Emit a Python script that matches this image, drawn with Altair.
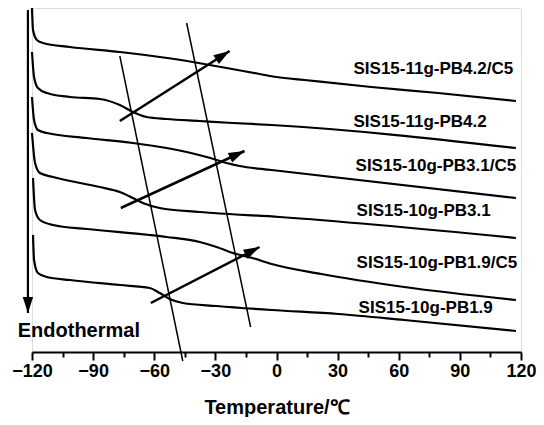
import math
import altair as alt
import pandas as pd

# ---- DSC curves: temperature (deg C) and heat flow (a.u., stacked offsets) ----
t_c1 = [-120, -119.5, -117.6, -114.6, -101.4, -76.9, -57.3, -41.1, -32.8, -24.5, -8.3, 0, 13.7, 46.5, 79.3, 117.5]
h_c1 = [344, 322, 312, 309, 305, 300, 295, 290, 287, 284, 278, 275, 272, 265, 259, 251]

t_c2 = [-120, -119, -117.1, -112.7, -101.4, -86.7, -76.9, -70.5, -63.7, -53.9, -37.7, -21.5, -2.4, 117.5]
h_c2 = [300, 275, 264, 259, 255, 253, 247, 240, 235, 233, 231, 229, 227, 204]

t_c3 = [-120, -119, -117.1, -112.7, -93.1, -70.5, -53.9, -44.1, -34.3, -24.5, -18.1, -2.4, 117.5]
h_c3 = [255, 232, 222, 219, 214, 209, 204, 200, 195, 189, 186, 182, 154]

t_c4 = [-120, -118.5, -116.1, -109.7, -86.7, -76.9, -70.5, -65.6, -57.3, -37.7, 1.5, 117.5]
h_c4 = [219, 189, 179, 175, 165, 160, 154, 149, 144, 140, 135, 114]

t_c5 = [-119.5, -118.5, -116.1, -109.7, -93.1, -62.2, -53.9, -37.7, -29.4, -21.5, -11.8, -2.4, 22, 62.7, 117.5]
h_c5 = [174, 142, 132, 127, 123, 117, 115, 110, 105, 99, 94, 88, 78, 65, 52]

t_c6 = [-119.5, -119, -117.1, -112.7, -101.4, -76.9, -62.2, -57.3, -52.4, -46, -29.4, -2.4, 30.4, 62.7, 117.5]
h_c6 = [117, 92, 79, 75, 72, 67, 64, 59, 53, 49, 46, 42, 38, 32, 21]

series_names = ["SIS15-11g-PB4.2/C5", "SIS15-11g-PB4.2", "SIS15-10g-PB3.1/C5",
                "SIS15-10g-PB3.1", "SIS15-10g-PB1.9/C5", "SIS15-10g-PB1.9"]

# ---- curve labels ----
label_t = [37.8, 37.8, 38.8, 39.3, 39.3, 40.3]
label_h = [278, 225.3, 181.3, 135.7, 84.3, 39.3]

# ---- guide lines through the transitions ----
guide_t1 = [-76.9, -44.1]
guide_h1 = [296, 329]
guide_t2 = [-46, -12.7]
guide_h2 = [-9, 25]

# ---- arrows (tail -> tip); last one is the "Endothermal" arrow ----
arrow_t1 = [-76.9, -76.4, -61.7, -122]
arrow_h1 = [231, 144, 49, 342]
arrow_t2 = [-23, -15.7, -8.3, -122]
arrow_h2 = [301, 201, 105, 39]

endo_text = ["Endothermal"]
endo_t = [-127.0]
endo_h = [15.3]

tick_values = list(range(-120, 121, 15))

# ---------------------------------------------------------------
W, H = 489, 344
PX_PER_T = W / 240.0
PX_PER_H = H / 344.0

rows = []
for name, ts, hs in zip(series_names, [t_c1, t_c2, t_c3, t_c4, t_c5, t_c6],
                        [h_c1, h_c2, h_c3, h_c4, h_c5, h_c6]):
    for t, h in zip(ts, hs):
        rows.append({"series": name, "t": t, "h": h})
curves = pd.DataFrame(rows)

labels = pd.DataFrame({"text": series_names, "t": label_t, "h": label_h})
guides = pd.DataFrame({"t1": guide_t1, "h1": guide_h1, "t2": guide_t2, "h2": guide_h2})

angles = []
for a, b, c, d in zip(arrow_t1, arrow_h1, arrow_t2, arrow_h2):
    dx = (c - a) * PX_PER_T
    dy = (d - b) * PX_PER_H
    angles.append(math.degrees(math.atan2(dx, dy)) % 360)
arrows = pd.DataFrame({"t1": arrow_t1, "h1": arrow_h1, "t2": arrow_t2, "h2": arrow_h2,
                       "angle": angles, "w": [2.5, 2.5, 2.5, 2.2]})
endo = pd.DataFrame({"text": endo_text, "t": endo_t, "h": endo_h})

FONT = "Liberation Sans"
XSCALE = alt.Scale(domain=[-120, 120], nice=False, zero=False)
YSCALE = alt.Scale(domain=[0, 344], nice=False, zero=False)
XAXIS = alt.Axis(
    values=tick_values,
    labelExpr="datum.value % 30 === 0 ? (datum.value < 0 ? '\u2212' : '') + abs(datum.value) : ''",
    tickSize={"condition": {"test": "datum.value % 30 === 0", "value": 8}, "value": 5},
    tickWidth=2, tickColor="black",
    domainWidth=2, domainColor="black",
    grid=False,
    labelFont=FONT, labelFontWeight="bold", labelFontSize=18, labelColor="black",
    labelPadding=2, labelFlush=False, labelOverlap=False,
    title="Temperature/℃",
    titleFont=FONT, titleFontWeight="bold", titleFontSize=20, titleColor="black",
    titleBaseline="alphabetic", titleY=61,
)


def X(field):
    return alt.X(field, type="quantitative", scale=XSCALE, axis=XAXIS)


def Y(field):
    return alt.Y(field, type="quantitative", scale=YSCALE, axis=None)


curve_layer = alt.Chart(curves).mark_line(
    color="black", strokeWidth=2.2, interpolate="monotone"
).encode(x=X("t"), y=Y("h"), detail="series:N", order="t:Q")

label_layer = alt.Chart(labels).mark_text(
    align="left", baseline="alphabetic", font=FONT, fontWeight="bold",
    fontSize=17, color="black"
).encode(x=X("t"), y=Y("h"), text="text:N")

guide_layer = alt.Chart(guides).mark_rule(color="black", strokeWidth=1.5).encode(
    x=X("t1"), y=Y("h1"), x2="t2", y2="h2"
)

shaft_layer = alt.Chart(arrows).mark_rule(color="black").encode(
    x=X("t1"), y=Y("h1"), x2="t2", y2="h2",
    strokeWidth=alt.StrokeWidth("w:Q", scale=None)
)

head_layer = alt.Chart(arrows).mark_point(
    shape="M0,0 L0.65,2 L-0.65,2 Z", size=256, filled=True, color="black", opacity=1
).encode(x=X("t2"), y=Y("h2"), angle=alt.Angle("angle:Q", scale=None))

endo_layer = alt.Chart(endo).mark_text(
    align="left", baseline="alphabetic", font=FONT, fontWeight="bold",
    fontSize=20, color="black"
).encode(x=X("t"), y=Y("h"), text="text:N")

chart = alt.layer(
    curve_layer, guide_layer, shaft_layer, head_layer, label_layer, endo_layer
).properties(
    width=W, height=H,
    autosize=alt.AutoSizeParams(type="none"),
    padding={"left": 24, "top": 0, "right": 15, "bottom": 65},
).configure_view(stroke=None).configure(background="white")

chart.save("out.html", embed_options={"renderer": "svg", "actions": False})
